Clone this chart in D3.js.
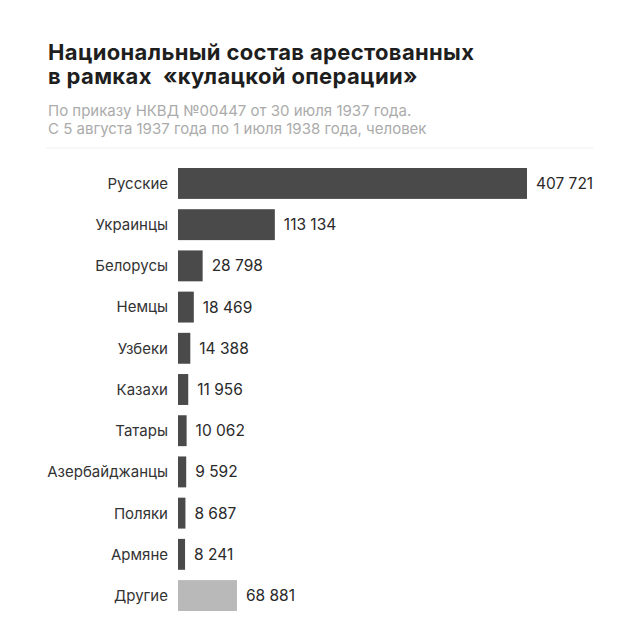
<!DOCTYPE html>
<html>
<head>
<meta charset="utf-8">
<script src="https://cdn.jsdelivr.net/npm/d3@7"></script>
<style>
  body { margin: 0; background: #fff; }
  text { font-family: Inter, "Noto Sans", sans-serif; white-space: pre; }
</style>
</head>
<body>
<div class="canvas"></div>
<script>
const categories = ['Русские', 'Украинцы', 'Белорусы', 'Немцы', 'Узбеки', 'Казахи',
  'Татары', 'Азербайджанцы', 'Поляки', 'Армяне', 'Другие']
const values = [407721, 113134, 28798, 18469, 14388, 11956, 10062, 9592, 8687, 8241, 68881]
const otherCategory = 'Другие'

const titleLines = ['Национальный состав арестованных', 'в рамках  «кулацкой операции»']
const subtitleLines = ['По приказу НКВД №00447 от 30 июля 1937 года.',
  'С 5 августа 1937 года по 1 июля 1938 года, человек']

const dims = {width: 640, height: 631}
const plot = {left: 178, top: 168, bottom: 611}

const data = categories.map((c, i) => ({name: c, value: values[i]}))

const svg = d3.select('.canvas').append('svg')
  .attr('width', dims.width)
  .attr('height', dims.height)

// header
svg.append('g').selectAll('text')
  .data(titleLines)
  .enter().append('text')
    .attr('x', 48)
    .attr('y', (d, i) => 60 + i * 24)
    .attr('font-size', 22)
    .attr('font-weight', 700)
    .attr('letter-spacing', 0.35)
    .attr('fill', '#1e1e1e')
    .text(d => d)

svg.append('g').selectAll('text')
  .data(subtitleLines)
  .enter().append('text')
    .attr('x', 48)
    .attr('y', (d, i) => 116 + i * 18)
    .attr('font-size', 15)
    .attr('fill', '#ababab')
    .text(d => d)

svg.append('line')
  .attr('x1', 46).attr('x2', 593)
  .attr('y1', 148).attr('y2', 148)
  .attr('stroke', '#eeeeee')
  .attr('stroke-width', 1)

const x = d3.scaleLinear()
  .domain([0, d3.max(values)])
  .range([plot.left, 527])

const y = d3.scaleBand()
  .domain(categories)
  .range([plot.top, plot.bottom])
  .paddingInner(0.25)
  .paddingOuter(0)

const graph = svg.append('g')

graph.selectAll('rect')
  .data(data)
  .enter().append('rect')
    .attr('x', x(0))
    .attr('y', d => y(d.name))
    .attr('width', d => x(d.value) - x(0))
    .attr('height', y.bandwidth())
    .attr('fill', d => d.name === otherCategory ? '#b9b9b9' : '#4a4a4a')

const fmt = v => d3.format(',')(v).replace(/,/g, ' ')

graph.selectAll('.val')
  .data(data)
  .enter().append('text')
    .attr('class', 'val')
    .attr('x', d => x(d.value) + 9)
    .attr('y', d => y(d.name) + y.bandwidth() / 2)
    .attr('dy', '0.36em')
    .attr('font-size', 15.5)
    .attr('fill', '#2a2a2a')
    .text(d => fmt(d.value))

graph.selectAll('.cat')
  .data(data)
  .enter().append('text')
    .attr('class', 'cat')
    .attr('x', plot.left - 10)
    .attr('y', d => y(d.name) + y.bandwidth() / 2)
    .attr('dy', '0.36em')
    .attr('text-anchor', 'end')
    .attr('font-size', 15)
    .attr('fill', '#333')
    .text(d => d.name)
</script>
</body>
</html>
